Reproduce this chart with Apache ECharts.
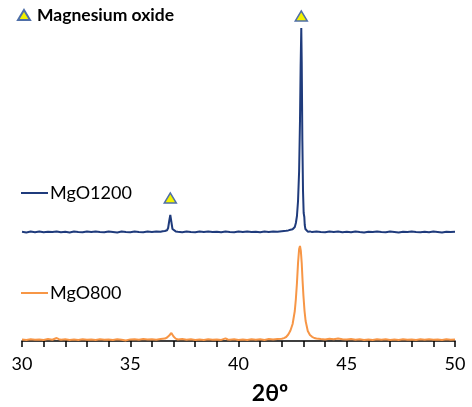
<!DOCTYPE html>
<html>
<head>
<meta charset="utf-8">
<script src="https://cdn.jsdelivr.net/npm/echarts@6/dist/echarts.min.js"></script>
<style>
html,body{margin:0;padding:0;background:#fff;}
#chart{width:472px;height:407px;}
</style>
</head>
<body>
<div id="chart"></div>
<script>
// 2θ tick labels
var tickLabels = [30, 35, 40, 45, 50];
var seriesNames = ['MgO1200', 'MgO800', 'Magnesium oxide'];

// MgO1200 pattern (offset intensity, a.u.)
var mgo1200 = [
[30.0,109.2],[30.2,108.6],[30.4,109.4],[30.6,108.8],[30.8,109.5],[31.0,108.7],[31.2,109.3],[31.4,108.9],[31.6,109.6],[31.8,108.8],
[32.0,109.2],[32.2,108.6],[32.4,109.5],[32.6,109.0],[32.8,108.7],[33.0,109.4],[33.2,108.9],[33.4,109.6],[33.6,109.1],[33.8,108.7],
[34.0,109.4],[34.2,109.0],[34.4,108.6],[34.6,109.5],[34.8,109.1],[35.0,108.8],[35.2,109.6],[35.4,109.0],[35.6,108.7],[35.8,109.4],
[36.0,109.0],[36.2,109.6],[36.4,109.2],[36.5,109.8],[36.6,110.0],[36.7,110.8],[36.75,113],[36.8,120],[36.85,126],[36.9,119],
[36.95,112],[37.0,110.3],[37.1,109.6],[37.2,109.2],[37.4,108.8],[37.6,109.5],[37.8,109.0],[38.0,108.7],[38.2,109.4],[38.4,109.0],
[38.6,109.6],[38.8,108.9],[39.0,109.3],[39.2,108.7],[39.4,109.5],[39.6,109.1],[39.8,108.8],[40.0,109.4],[40.2,109.0],[40.4,109.6],
[40.6,108.9],[40.8,109.3],[41.0,108.8],[41.2,109.5],[41.4,109.1],[41.6,109.6],[41.8,109.3],[42.0,109.8],[42.2,110.2],[42.3,110.6],
[42.4,111.2],[42.5,111.8],[42.6,114],[42.65,118],[42.7,125],[42.75,140],[42.8,170],[42.84,220],[42.87,275],[42.9,313],
[42.92,280],[42.95,200],[42.98,150],[43.01,128],[43.04,124],[43.06,116],[43.09,112],[43.13,110],[43.17,110.6],[43.2,109.3],
[43.3,109.6],[43.4,108.9],[43.6,109.4],[43.8,109.0],[44.0,108.7],[44.2,109.4],[44.4,109.0],[44.6,109.5],[44.8,108.8],[45.0,109.2],
[45.2,108.7],[45.4,109.5],[45.6,109.0],[45.8,108.6],[46.0,109.3],[46.2,108.9],[46.4,109.5],[46.6,109.0],[46.8,108.7],[47.0,109.4],
[47.2,109.0],[47.4,108.6],[47.6,109.3],[47.8,108.9],[48.0,109.5],[48.2,109.0],[48.4,108.7],[48.6,109.3],[48.8,108.8],[49.0,109.4],
[49.2,109.0],[49.4,108.6],[49.6,109.3],[49.8,108.9],[50.0,109.2]
];

// MgO800 pattern (offset intensity, a.u.)
var mgo800 = [
[30.0,1.5],[30.2,1.0],[30.4,1.8],[30.6,1.2],[30.8,1.6],[31.0,1.1],[31.2,1.9],[31.4,1.3],[31.6,3.0],[31.7,1.8],
[31.8,1.2],[32.0,1.7],[32.2,1.1],[32.4,1.6],[32.6,1.0],[32.8,1.8],[33.0,1.3],[33.2,1.6],[33.4,1.0],[33.6,1.7],
[33.8,1.2],[34.0,1.5],[34.2,1.0],[34.4,1.8],[34.6,1.3],[34.8,0.6],[35.0,1.6],[35.2,1.7],[35.4,1.2],[35.6,1.9],
[35.8,1.4],[36.0,1.8],[36.2,1.3],[36.4,2.0],[36.6,2.4],[36.7,3.5],[36.8,5.5],[36.9,8.0],[36.95,7.0],[37.0,4.5],
[37.1,2.4],[37.2,1.5],[37.4,1.9],[37.6,1.2],[37.8,1.7],[38.0,1.1],[38.2,1.6],[38.4,1.0],[38.6,1.8],[38.8,1.3],
[39.0,1.6],[39.2,1.1],[39.4,2.6],[39.5,1.5],[39.6,1.2],[39.8,1.7],[40.0,1.1],[40.2,1.6],[40.4,1.0],[40.6,1.8],
[40.8,1.3],[41.0,1.7],[41.2,1.1],[41.4,1.9],[41.6,1.4],[41.8,2.0],[42.0,2.3],[42.1,2.9],[42.2,4.0],[42.3,6.5],
[42.4,10.5],[42.5,17],[42.6,30],[42.65,42],[42.7,58],[42.75,78],[42.8,92],[42.84,95],[42.88,90],[42.92,78],
[42.96,60],[43.0,45],[43.05,30],[43.1,20],[43.2,10],[43.3,6],[43.4,4.2],[43.5,3.0],[43.6,2.5],[43.8,2.0],
[44.0,1.6],[44.2,2.2],[44.4,1.7],[44.6,2.6],[44.8,1.8],[45.0,1.4],[45.2,1.9],[45.4,1.3],[45.6,1.7],[45.8,1.1],
[46.0,1.6],[46.2,1.0],[46.4,1.8],[46.6,1.3],[46.8,1.7],[47.0,1.1],[47.2,1.6],[47.4,1.0],[47.6,1.8],[47.8,1.2],
[48.0,1.6],[48.2,1.0],[48.4,1.7],[48.6,1.3],[48.8,1.8],[49.0,1.2],[49.2,1.6],[49.4,1.0],[49.6,1.7],[49.8,1.3],
[50.0,1.5]
];

// MgO reflection markers (2θ, marker height)
var mgoMarkers = [[36.85, 143], [42.9, 325]];

var FONT = 'Lato';
var chart = echarts.init(document.getElementById('chart'), null, {renderer: 'canvas'});
chart.setOption({
  animation: false,
  backgroundColor: '#ffffff',
  grid: {left: 22, right: 17, top: 0, bottom: 66},
  xAxis: {
    type: 'value', min: 30, max: 50, interval: 1,
    axisLine: {show: true, lineStyle: {color: '#000', width: 1.5}},
    axisTick: {show: true, length: 6, lineStyle: {color: '#000', width: 1.5}},
    splitLine: {show: false},
    axisLabel: {
      margin: 14, color: '#000', fontSize: 18, fontFamily: FONT,
      formatter: function (v) { return tickLabels.indexOf(v) >= 0 ? String(v) : ''; }
    }
  },
  yAxis: {type: 'value', min: 0, max: 341, show: false},
  legend: [
    {data: [seriesNames[2]], left: 17, top: 6, padding: 0, icon: 'triangle', itemWidth: 12, itemHeight: 10, itemGap: 0,
     textStyle: {color: '#000', fontSize: 17.5, fontWeight: 'bold', fontFamily: FONT, padding: [0, 0, 0, 2]}},
    {data: [seriesNames[0]], left: 21, top: 184, padding: 0, icon: 'rect', itemWidth: 27, itemHeight: 2,
     textStyle: {color: '#000', fontSize: 18, fontFamily: FONT, padding: [0, 0, 0, -3]}},
    {data: [seriesNames[1]], left: 21, top: 284, padding: 0, icon: 'rect', itemWidth: 27, itemHeight: 2,
     textStyle: {color: '#000', fontSize: 18, fontFamily: FONT, padding: [0, 0, 0, -3]}}
  ],
  graphic: [{
    type: 'text', x: 270, y: 394,
    style: {text: '2θº', font: 'bold 23px Lato', fill: '#000', textAlign: 'center', textVerticalAlign: 'middle'}
  }],
  series: [
    {name: seriesNames[0], type: 'line', data: mgo1200, showSymbol: false, symbol: 'none',
     lineStyle: {color: '#1f3b7c', width: 2}, itemStyle: {color: '#1f3b7c'}},
    {name: seriesNames[1], type: 'line', data: mgo800, showSymbol: false, symbol: 'none',
     lineStyle: {color: '#f79646', width: 2}, itemStyle: {color: '#f79646'}},
    {name: seriesNames[2], type: 'scatter', data: mgoMarkers, symbol: 'triangle', symbolSize: [12, 10], clip: false,
     itemStyle: {color: '#f2f200', borderColor: '#4f6fa8', borderWidth: 1.5, opacity: 1}, z: 5}
  ]
});
</script>
</body>
</html>
